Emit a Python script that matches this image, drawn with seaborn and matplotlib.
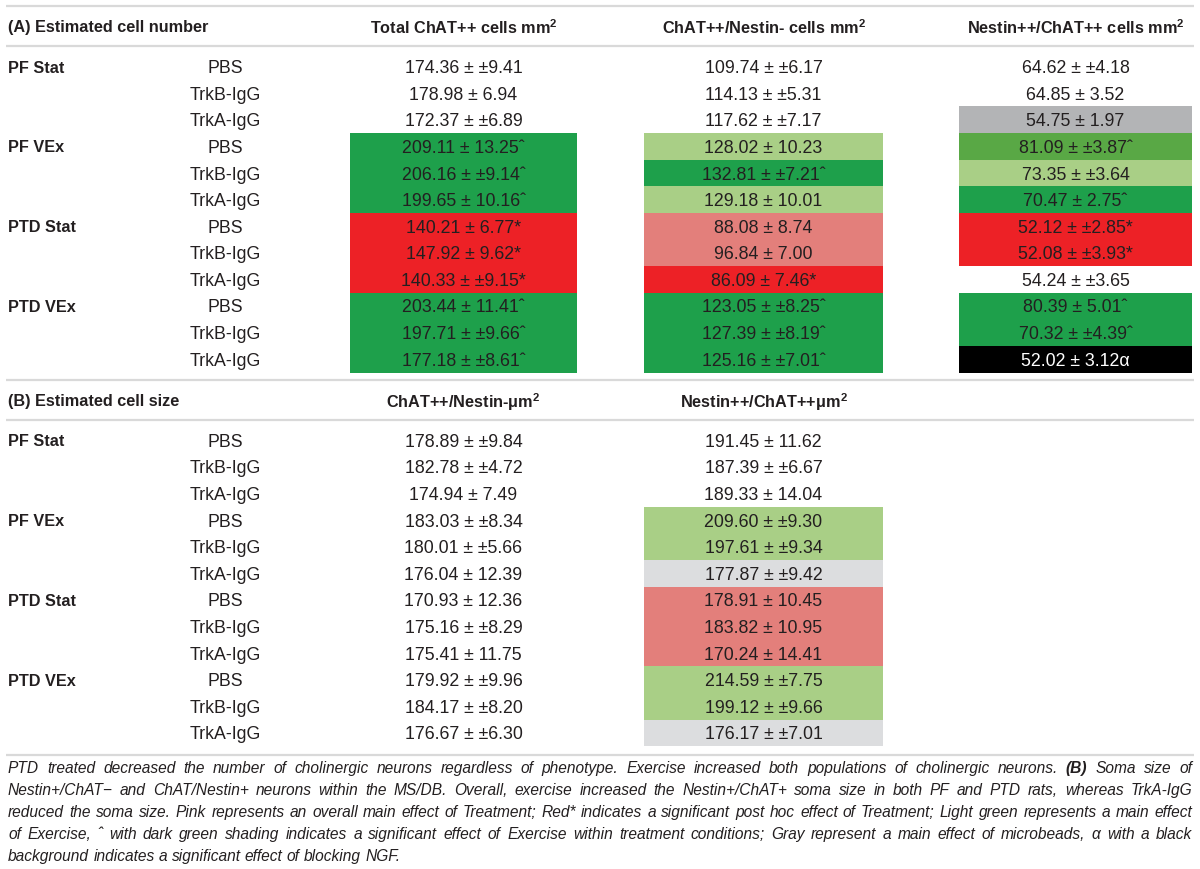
import numpy as np
import pandas as pd
import matplotlib
matplotlib.use("Agg")
import matplotlib.pyplot as plt
import seaborn as sns
from matplotlib.colors import ListedColormap
from matplotlib import font_manager
from matplotlib.text import Text

sns.set_theme(style="white")
plt.rcParams['font.family'] = ['Liberation Sans', 'DejaVu Sans']
plt.rcParams['mathtext.fontset'] = 'custom'
plt.rcParams['mathtext.rm'] = 'Liberation Sans'
plt.rcParams['mathtext.bf'] = 'Liberation Sans:bold'

# ---------------- data ----------------
groups = ["PF Stat", "PF VEx", "PTD Stat", "PTD VEx"]
treatments = ["PBS", "TrkB-IgG", "TrkA-IgG"]

title_a = "(A) Estimated cell number"
title_b = "(B) Estimated cell size"
headers_a = [r"Total ChAT++ cells mm$^{\mathbf{2}}$", r"ChAT++/Nestin- cells mm$^{\mathbf{2}}$",
             r"Nestin++/ChAT++ cells mm$^{\mathbf{2}}$"]
headers_b = [r"ChAT++/Nestin-μm$^{\mathbf{2}}$", r"Nestin++/ChAT++μm$^{\mathbf{2}}$"]

a_total = ["174.36 ± ±9.41", "178.98 ± 6.94", "172.37 ± ±6.89",
           "209.11 ± 13.25ˆ", "206.16 ± ±9.14ˆ", "199.65 ± 10.16ˆ",
           "140.21 ± 6.77*", "147.92 ± 9.62*", "140.33 ± ±9.15*",
           "203.44 ± 11.41ˆ", "197.71 ± ±9.66ˆ", "177.18 ± ±8.61ˆ"]
a_chat_nes = ["109.74 ± ±6.17", "114.13 ± ±5.31", "117.62 ± ±7.17",
              "128.02 ± 10.23", "132.81 ± ±7.21ˆ", "129.18 ± 10.01",
              "88.08 ± 8.74", "96.84 ± 7.00", "86.09 ± 7.46*",
              "123.05 ± ±8.25ˆ", "127.39 ± ±8.19ˆ", "125.16 ± ±7.01ˆ"]
a_nes_chat = ["64.62 ± ±4.18", "64.85 ± 3.52", "54.75 ± 1.97",
              "81.09 ± ±3.87ˆ", "73.35 ± ±3.64", "70.47 ± 2.75ˆ",
              "52.12 ± ±2.85*", "52.08 ± ±3.93*", "54.24 ± ±3.65",
              "80.39 ± 5.01ˆ", "70.32 ± ±4.39ˆ", "52.02 ± 3.12α"]
b_chat_nes = ["178.89 ± ±9.84", "182.78 ± ±4.72", "174.94 ± 7.49",
              "183.03 ± ±8.34", "180.01 ± ±5.66", "176.04 ± 12.39",
              "170.93 ± 12.36", "175.16 ± ±8.29", "175.41 ± 11.75",
              "179.92 ± ±9.96", "184.17 ± ±8.20", "176.67 ± ±6.30"]
b_nes_chat = ["191.45 ± 11.62", "187.39 ± ±6.67", "189.33 ± 14.04",
              "209.60 ± ±9.30", "197.61 ± ±9.34", "177.87 ± ±9.42",
              "178.91 ± 10.45", "183.82 ± 10.95", "170.24 ± 14.41",
              "214.59 ± ±7.75", "199.12 ± ±9.66", "176.17 ± ±7.01"]

# shading categories: 0 none, 1 dark green, 2 light green, 3 mid green,
# 4 red, 5 pink, 6 gray, 7 light gray, 8 black
a_total_shade = [0, 0, 0, 1, 1, 1, 4, 4, 4, 1, 1, 1]
a_chat_nes_shade = [0, 0, 0, 2, 1, 2, 5, 5, 4, 1, 1, 1]
a_nes_chat_shade = [0, 0, 6, 3, 2, 1, 4, 4, 0, 1, 1, 8]
b_chat_nes_shade = [0] * 12
b_nes_chat_shade = [0, 0, 0, 2, 2, 7, 5, 5, 5, 2, 2, 7]

caption_lines = [
    "PTD treated decreased the number of cholinergic neurons regardless of phenotype. Exercise increased both populations of cholinergic neurons. (B) Soma size of",
    "Nestin+/ChAT− and ChAT/Nestin+ neurons within the MS/DB. Overall, exercise increased the Nestin+/ChAT+ soma size in both PF and PTD rats, whereas TrkA-IgG",
    "reduced the soma size. Pink represents an overall main effect of Treatment; Red* indicates a significant post hoc effect of Treatment; Light green represents a main effect",
    "of Exercise, ˆ with dark green shading indicates a significant effect of Exercise within treatment conditions; Gray represent a main effect of microbeads, α with a black",
    "background indicates a significant effect of blocking NGF.",
]

# ---------------- style ----------------
shade_colors = ["#ffffff", "#1ea04b", "#a9cf86", "#59a845", "#ed2126",
                "#e37f7b", "#b3b4b6", "#dcdddf", "#000000"]
cmap = ListedColormap(shade_colors)
TXT = "#231f20"
RULE = "#d9d9d9"
W, H = 1200, 869
NUM_FS = 12.8
BOLD_FS = 11.7
VA = "center_baseline"

fig = plt.figure(figsize=(12, 8.69), dpi=100)
ax = fig.add_axes([0, 0, 1, 1])
ax.set_xlim(0, W)
ax.set_ylim(H, 0)
ax.axis("off")

row_h = 26.6
top_a = 53.3
top_b = 427.0
cols_x = [(350, 577), (644, 883), (959, 1192)]

# rules
for y in [6, 46, 380, 420, 755]:
    ax.plot([6, 1194], [y, y], color=RULE, lw=1.6, solid_capstyle="butt")

# headers
ax.text(8, 26, title_a, fontsize=BOLD_FS, fontweight="bold", color=TXT, va=VA, ha="left")
for (x0, x1), h in zip(cols_x, headers_a):
    ax.text((x0 + x1) / 2, 26, h, fontsize=BOLD_FS, fontweight="bold", color=TXT, va=VA, ha="center")
ax.text(8, 400, title_b, fontsize=BOLD_FS, fontweight="bold", color=TXT, va=VA, ha="left")
for (x0, x1), h in zip(cols_x[:2], headers_b):
    ax.text((x0 + x1) / 2, 400, h, fontsize=BOLD_FS, fontweight="bold", color=TXT, va=VA, ha="center")

# row labels
for top in (top_a, top_b):
    for gi, g in enumerate(groups):
        for ti, t in enumerate(treatments):
            yc = top + (gi * 3 + ti + 0.5) * row_h
            if ti == 0:
                ax.text(8, yc, g, fontsize=BOLD_FS, fontweight="bold", color=TXT, va=VA, ha="left")
            ax.text(225, yc, t, fontsize=NUM_FS, color=TXT, va=VA, ha="center")


def draw_column(xr, top, labels, shades):
    x0, x1 = xr
    hax = fig.add_axes([x0 / W, 1 - (top + 12 * row_h) / H, (x1 - x0) / W, 12 * row_h / H])
    df = pd.DataFrame({"v": shades})
    sns.heatmap(df, ax=hax, cmap=cmap, vmin=-0.5, vmax=len(shade_colors) - 0.5,
                cbar=False, xticklabels=False, yticklabels=False, linewidths=0)
    hax.set_xlabel("")
    hax.set_ylabel("")
    for i, (lab, s) in enumerate(zip(labels, shades)):
        hax.text(0.5, i + 0.5, lab, ha="center", va=VA, fontsize=NUM_FS,
                 color="white" if s == 8 else TXT)


draw_column(cols_x[0], top_a, a_total, a_total_shade)
draw_column(cols_x[1], top_a, a_chat_nes, a_chat_nes_shade)
draw_column(cols_x[2], top_a, a_nes_chat, a_nes_chat_shade)
draw_column(cols_x[0], top_b, b_chat_nes, b_chat_nes_shade)
draw_column(cols_x[1], top_b, b_nes_chat, b_nes_chat_shade)

# caption (justified)
names = {f.name for f in font_manager.fontManager.ttflist}
cap_family = ["Liberation Sans Narrow", "DejaVu Sans"] if "Liberation Sans Narrow" in names else ["Liberation Sans", "DejaVu Sans"]
renderer = fig.canvas.get_renderer()
left, right = 8, 1192
cap_base = [773, 795, 817, 839, 861]


def measure(s, fs, bold=False):
    t = Text(0, 0, s, fontsize=fs, style="italic", family=cap_family,
             fontweight="bold" if bold else "normal")
    t.set_figure(fig)
    return t.get_window_extent(renderer).width


def natural_widths(fs):
    spw = measure("a a", fs) - 2 * measure("a", fs)
    res = []
    mx = 0
    for line in caption_lines:
        words = line.split(" ")
        ws = [measure(w, fs, w == "(B)") for w in words]
        res.append((words, ws))
        mx = max(mx, sum(ws) + spw * (len(words) - 1))
    return res, mx, spw


base_fs = 12.0
_, mx, _ = natural_widths(base_fs)
cap_fs = base_fs * (right - left) * 0.985 / mx
lines, mx, spw = natural_widths(cap_fs)

for li, (words, ws) in enumerate(lines):
    n = len(words)
    if li < len(lines) - 1 and n > 1:
        gap = (right - left - sum(ws)) / (n - 1)
    else:
        gap = spw
    x = left
    for w, wd in zip(words, ws):
        ax.text(x, cap_base[li], w, fontsize=cap_fs, style="italic", family=cap_family,
                fontweight="bold" if w == "(B)" else "normal", color=TXT, va="baseline", ha="left")
        x += wd + gap

fig.savefig("out.png", dpi=100, facecolor="white")
